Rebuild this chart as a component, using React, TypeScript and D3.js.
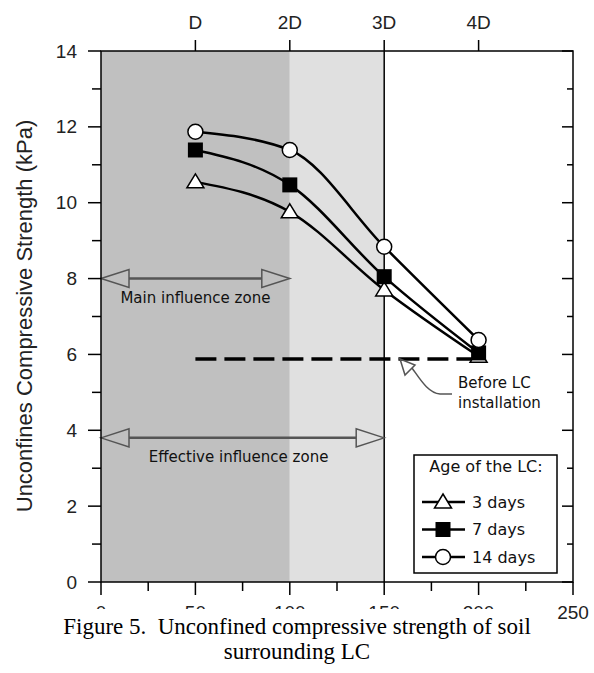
import React from "react";
import * as d3 from "d3";

const distances = [50, 100, 150, 200];
const days3 = [10.55, 9.76, 7.7, 5.95];
const days7 = [11.39, 10.47, 8.05, 6.04];
const days14 = [11.87, 11.39, 8.84, 6.38];
const beforeLC = 5.88;
const beforeRange = [50, 200];
const topTickValues = [50, 100, 150, 200];
const topTickLabels = ["D", "2D", "3D", "4D"];
const bottomTickLabels = [0, 50, 100, 150, 200, 250];
const leftTickLabels = [0, 2, 4, 6, 8, 10, 12, 14];
const mainZone = [0, 100];
const effectiveZone = [0, 150];
const mainZoneY = 8;
const effectiveZoneY = 3.8;
const legendLabels = ["3 days", "7 days", "14 days"];

const W = 594, H = 673;
const L = 101, R = 573, T = 51, B = 582;

export default function App() {
  const x = d3.scaleLinear().domain([0, 250]).range([L, R]);
  const y = d3.scaleLinear().domain([0, 14]).range([B, T]);
  const line = d3
    .line<[number, number]>()
    .x((d) => x(d[0]))
    .y((d) => y(d[1]))
    .curve(d3.curveMonotoneX);
  const series = [days3, days7, days14];
  const font = "Arial, 'Liberation Sans', sans-serif";
  const afont = "'DejaVu Sans', Verdana, sans-serif";
  const serif = "'Times New Roman', 'Liberation Serif', serif";
  const gray = "#555";

  const tri = (cx: number, cy: number) =>
    `M${cx},${cy - 8}L${cx + 8.5},${cy + 6}L${cx - 8.5},${cy + 6}Z`;
  const marker = (k: number, cx: number, cy: number, key: string) => {
    if (k === 0)
      return <path key={key} d={tri(cx, cy)} fill="#fff" stroke="#000" strokeWidth={1.5} />;
    if (k === 1)
      return <rect key={key} x={cx - 7.5} y={cy - 7.5} width={15} height={15} fill="#000" />;
    return <circle key={key} cx={cx} cy={cy} r={7.5} fill="#fff" stroke="#000" strokeWidth={1.5} />;
  };

  const dblArrow = (x0: number, x1: number, yy: number, key: string) => {
    const ah = 28, hw = 9;
    return (
      <g key={key} stroke={gray} fill="none">
        <line x1={x0 + ah} x2={x1 - ah} y1={yy} y2={yy} strokeWidth={2.5} />
        <path d={`M${x0},${yy}L${x0 + ah},${yy - hw}L${x0 + ah},${yy + hw}Z`} strokeWidth={1.5} />
        <path d={`M${x1},${yy}L${x1 - ah},${yy - hw}L${x1 - ah},${yy + hw}Z`} strokeWidth={1.5} />
      </g>
    );
  };

  const yTicks = d3.range(0, 15, 1);
  const xTicks = d3.range(0, 251, 25);
  const by = y(beforeLC);

  return (
    <svg width={W} height={H} style={{ position: "absolute", left: 0, top: 0, background: "#fff" }}>
      {/* shading */}
      <rect x={x(0)} y={T} width={x(100) - x(0)} height={B - T} fill="#c0c0c0" />
      <rect x={x(100)} y={T} width={x(150) - x(100)} height={B - T} fill="#e0e0e0" />
      <line x1={x(150)} x2={x(150)} y1={T} y2={B} stroke="#000" strokeWidth={1.5} />

      {/* dashed before line */}
      <line
        x1={x(beforeRange[0])}
        x2={x(beforeRange[1])}
        y1={by}
        y2={by}
        stroke="#000"
        strokeWidth={3.5}
        strokeDasharray="21,8"
      />

      {/* zones */}
      {dblArrow(x(mainZone[0]), x(mainZone[1]), y(mainZoneY), "m")}
      <text x={(x(mainZone[0]) + x(mainZone[1])) / 2} y={y(mainZoneY) + 19} textAnchor="middle" dominantBaseline="central" fontFamily={afont} fontSize={15} fill="#111">
        Main influence zone
      </text>
      {dblArrow(x(effectiveZone[0]), x(effectiveZone[1]), y(effectiveZoneY), "e")}
      <text x={(x(effectiveZone[0]) + x(effectiveZone[1])) / 2 - 4} y={y(effectiveZoneY) + 19} textAnchor="middle" dominantBaseline="central" fontFamily={afont} fontSize={15} fill="#111">
        Effective influence zone
      </text>

      {/* before LC annotation */}
      <g stroke={gray} fill="none" strokeWidth={1.5}>
        <path d={`M412,${by + 9} C420,${by + 20} 428,${by + 34} 440,${by + 35} L452,${by + 35}`} />
        <path d={`M400,${by} L415,${by + 6} L405,${by + 16} Z`} />
      </g>
      <text x={458} y={by + 24} dominantBaseline="central" fontFamily={afont} fontSize={15} fill="#111">Before LC</text>
      <text x={458} y={by + 44} dominantBaseline="central" fontFamily={afont} fontSize={15} fill="#111">installation</text>

      {/* series lines */}
      {series.map((s, k) => (
        <path key={"l" + k} d={line(distances.map((d, i) => [d, s[i]] as [number, number])) || ""} fill="none" stroke="#000" strokeWidth={2.5} />
      ))}
      {series.map((s, k) => distances.map((d, i) => marker(k, x(d), y(s[i]), `mk${k}-${i}`)))}

      {/* frame */}
      <rect x={L} y={T} width={R - L} height={B - T} fill="none" stroke="#000" strokeWidth={1.5} />

      {/* left ticks */}
      {yTicks.map((v) => (
        <line key={"yl" + v} x1={L - (v % 2 === 0 ? 13 : 9)} x2={L} y1={y(v)} y2={y(v)} stroke="#000" strokeWidth={1.5} />
      ))}
      {yTicks.map((v) => (
        <line key={"yr" + v} x1={R - (v % 2 === 0 ? 11 : 6)} x2={R} y1={y(v)} y2={y(v)} stroke="#000" strokeWidth={1.5} />
      ))}
      {leftTickLabels.map((v) => (
        <text key={"yt" + v} x={77} y={y(v)} textAnchor="end" dominantBaseline="central" fontFamily={font} fontSize={19} fill="#222">
          {v}
        </text>
      ))}

      {/* bottom ticks */}
      {xTicks.map((v) => (
        <line key={"xb" + v} x1={x(v)} x2={x(v)} y1={B} y2={B + (v % 50 === 0 ? 13 : 9)} stroke="#000" strokeWidth={1.5} />
      ))}
      {bottomTickLabels.map((v) => (
        <text key={"xt" + v} x={x(v)} y={612} textAnchor="middle" dominantBaseline="central" fontFamily={font} fontSize={19} fill="#222">
          {v}
        </text>
      ))}

      {/* top ticks */}
      {topTickValues.map((v, i) => (
        <g key={"tt" + v}>
          <line x1={x(v)} x2={x(v)} y1={T - 11} y2={T} stroke="#000" strokeWidth={1.5} />
          <text x={x(v)} y={22} textAnchor="middle" dominantBaseline="central" fontFamily={font} fontSize={19} fill="#222">
            {topTickLabels[i]}
          </text>
        </g>
      ))}

      {/* y title */}
      <text transform={`translate(24,316) rotate(-90)`} textAnchor="middle" dominantBaseline="central" fontFamily={font} fontSize={22} fill="#222">
        Unconfines Compressive Strength (kPa)
      </text>

      {/* legend */}
      <rect x={414} y={455} width={143} height={118} fill="#fff" stroke="#000" strokeWidth={1.5} />
      <text x={486} y={466} textAnchor="middle" dominantBaseline="central" fontFamily={afont} fontSize={16} fill="#111">
        Age of the LC:
      </text>
      {legendLabels.map((lab, k) => {
        const ly = 502 + k * 27.5;
        return (
          <g key={"lg" + k}>
            <line x1={422} x2={465} y1={ly} y2={ly} stroke="#000" strokeWidth={2.5} />
            {marker(k, 443, ly, "lm" + k)}
            <text x={472} y={ly} dominantBaseline="central" fontFamily={afont} fontSize={16} fill="#111">
              {lab}
            </text>
          </g>
        );
      })}

      {/* caption */}
      <rect x={0} y={609} width={552} height={H - 609} fill="#fff" />
      <text x={297} y={626} textAnchor="middle" dominantBaseline="central" fontFamily={serif} fontSize={23} fill="#000" style={{ whiteSpace: "pre" }}>
        {"Figure 5.  Unconfined compressive strength of soil"}
      </text>
      <text x={297} y={651} textAnchor="middle" dominantBaseline="central" fontFamily={serif} fontSize={23} fill="#000">
        surrounding LC
      </text>
    </svg>
  );
}
